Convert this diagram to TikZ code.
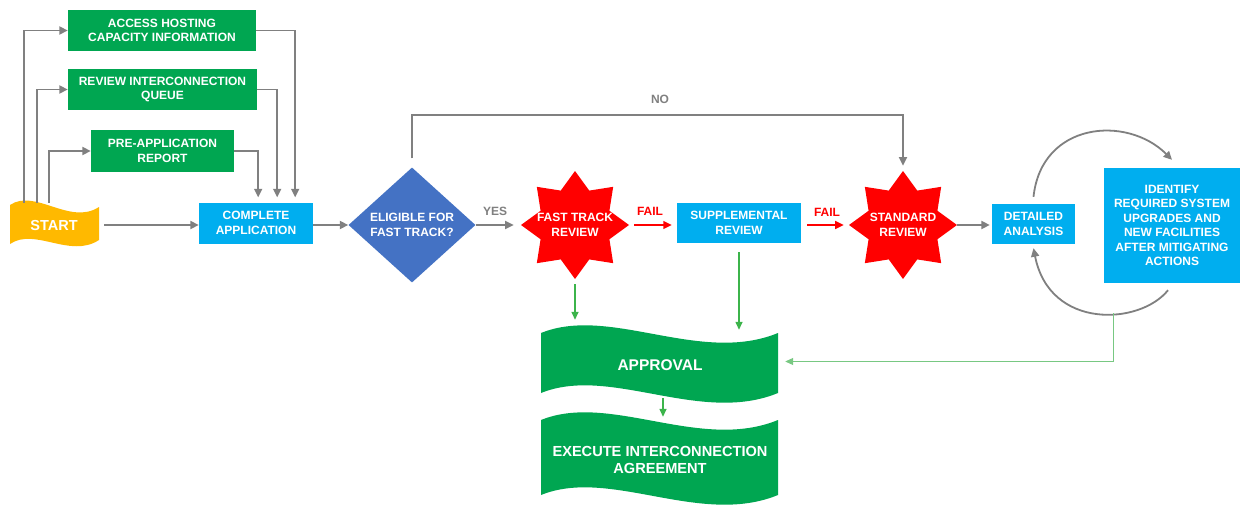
\documentclass[tikz,border=0pt]{standalone}
\usepackage{fontspec}
\setmainfont{Liberation Sans}
\usetikzlibrary{shapes.geometric,arrows.meta}
\definecolor{gbox}{RGB}{0,166,81}
\definecolor{bbox}{RGB}{0,174,239}
\definecolor{dbox}{RGB}{68,114,196}
\definecolor{rstar}{RGB}{255,0,0}
\definecolor{ybox}{RGB}{255,185,0}
\definecolor{gline}{RGB}{128,128,128}
\definecolor{garr}{RGB}{60,180,75}
\definecolor{glight}{RGB}{120,200,130}
\tikzset{
  txt/.style={text=white,font=\bfseries\fontsize{12}{14.5}\selectfont,align=center,inner sep=0pt},
  gbx/.style={fill=gbox,minimum height=41pt,txt},
  bbx/.style={fill=bbox,txt},
  ghost/.style={draw=none,fill=none,inner sep=0pt},
  rstr/.style={star,star points=8,star point ratio=1.45,minimum size=108pt,fill=rstar,inner sep=0pt},
  gar/.style={draw=gline,line width=1.8pt,-{Triangle[length=8.5pt,width=8pt]}},
  rar/.style={draw=rstar,line width=1.4pt,-{Triangle[length=8.5pt,width=8pt]}},
  grn/.style={draw=garr,line width=1.4pt,-{Triangle[length=8pt,width=7pt]}},
  lbl/.style={font=\bfseries\fontsize{12}{14}\selectfont,inner sep=0pt},
}
\begin{document}
\begin{tikzpicture}[x=1pt,y=-1pt]
\useasboundingbox (0,0) rectangle (1241,508);
\fill[white] (0,0) rectangle (1241,508);

% green info boxes
\node[gbx,minimum width=188pt] (acc) at (162,30.5) {ACCESS HOSTING\\CAPACITY INFORMATION};
\node[gbx,minimum width=189pt] (riq) at (162.5,89.5) {REVIEW INTERCONNECTION\\QUEUE};
\node[gbx,minimum width=143pt,minimum height=42pt] (pre) at (162.5,151) {PRE-APPLICATION\\REPORT};

% start flag
\node[ghost,minimum width=89pt,minimum height=42pt] (start) at (54.5,224) {};
\fill[ybox] (10,205) .. controls (35,188) and (70,226) .. (99,207)
  -- (99,240) .. controls (70,259) and (35,227) .. (10,244) -- cycle;
\node[txt,font=\bfseries\fontsize{14.5}{16}\selectfont] (startt) at (54,226) {START};

% complete application
\node[bbx,minimum width=114pt,minimum height=41pt] (cap) at (256,223) {COMPLETE\\APPLICATION};

% diamond
\node[diamond,fill=dbox,minimum width=127pt,minimum height=115pt,inner sep=0pt] (dia) at (412,225) {};
\node[txt] (diat) at (412,225) {ELIGIBLE FOR\\FAST TRACK?};

% stars
\node[rstr] (ft) at (575,225) {};
\node[txt] (ftt) at (575,225) {FAST TRACK\\REVIEW};
\node[rstr] (std) at (903,225) {};
\node[txt] (stdt) at (903,225) {STANDARD\\REVIEW};

% blue boxes
\node[bbx,minimum width=124pt,minimum height=40pt] (sup) at (739,223) {SUPPLEMENTAL\\REVIEW};
\node[bbx,minimum width=83pt,minimum height=40pt] (det) at (1033.5,224) {DETAILED\\ANALYSIS};
\node[bbx,minimum width=136pt,minimum height=115pt] (idf) at (1172,225.5) {IDENTIFY\\REQUIRED SYSTEM\\UPGRADES AND\\NEW FACILITIES\\AFTER MITIGATING\\ACTIONS};

% approval and execute (wave shapes)
\node[ghost,minimum width=237pt,minimum height=73pt] (ap) at (659.5,361.5) {};
\fill[gbox] (541,333) .. controls (610,305) and (700,365) .. (778,333)
  -- (778,393) .. controls (700,425) and (610,365) .. (541,393) -- cycle;
\node[txt,font=\bfseries\fontsize{15.5}{17}\selectfont] (apt) at (660,365) {APPROVAL};
\node[ghost,minimum width=237pt,minimum height=85pt] (ex) at (659.5,462.5) {};
\fill[gbox] (541,420) .. controls (610,392) and (700,452) .. (778,420)
  -- (778,495) .. controls (700,527) and (610,467) .. (541,495) -- cycle;
\node[txt,font=\bfseries\fontsize{14.6}{17.5}\selectfont] (ext) at (660,460) {EXECUTE INTERCONNECTION\\AGREEMENT};

% connectors from start
\draw[gar] ([xshift=14pt]start.north west) |- (acc.west);
\draw[gar] ([xshift=27pt]start.north west) |- (riq.west);
\draw[gar] ([xshift=39pt]start.north west) |- (pre.west);
\draw[gar,shorten >=5pt] (acc.east) -| ([xshift=-18pt]cap.north east);
\draw[gar,shorten >=5pt] (riq.east) -| ([xshift=-36pt]cap.north east);
\draw[gar,shorten >=5pt] (pre.east) -| ([xshift=-55pt]cap.north east);
\draw[gar,shorten <=5pt] (start.east |- cap.west) ++(0,2) -- ([yshift=-2pt]cap.west);

% main flow
\draw[gar] ([yshift=-2pt]cap.east) -- (dia.west);
\draw[gar,shorten <=9pt,shorten >=5pt] (dia.north) -- ++(0,-52) -| (std.north);
\node[lbl,text=gline] (no) at (660,99) {NO};
\draw[gar,shorten >=7pt] (dia.east) -- (ft.west);
\node[lbl,text=gline] (yes) at (495,211) {YES};
\draw[rar,shorten <=5pt,shorten >=5pt] (ft.east) -- ([yshift=-2pt]sup.west);
\node[lbl,text=rstar] (fail1) at (650,211) {FAIL};
\draw[rar,shorten <=6pt,shorten >=5pt] ([yshift=-2pt]sup.east) -- (std.west);
\node[lbl,text=rstar] (fail2) at (827,212) {FAIL};
\draw[gar,shorten >=2pt] (std.east) -- ([yshift=-1pt]det.west);

% loop
\draw[gar] ([yshift=7pt]det.north) .. controls +(8,-75) and +(-45,-45) .. ([yshift=8pt]idf.north);
\draw[gar] ([xshift=-4pt,yshift=-7pt]idf.south) .. controls +(-28,35) and +(16,82) .. ([yshift=-4pt]det.south);
\coordinate (loopb) at (1113,313);

% to approval
\draw[grn,shorten <=5pt,shorten >=5pt] (ft.south) -- (ft.south |- ap.north);
\draw[grn,shorten <=9pt] (sup.south) -- ([yshift=-5pt]sup.south |- ap.north);
\draw[draw=glight,line width=1pt,-{Triangle[length=8pt,width=7pt]},shorten >=7pt] (loopb) |- (ap.east);
\draw[grn] (ap.south) ++(3.5,0) -- ([xshift=3.5pt,yshift=3pt]ex.north);
\end{tikzpicture}
\end{document}
